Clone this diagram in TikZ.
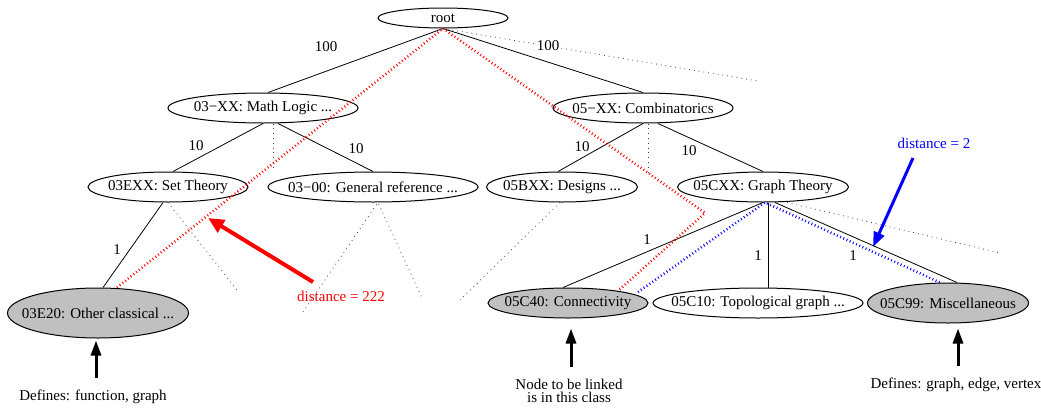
\documentclass[tikz,border=0pt]{standalone}
\usepackage{fontspec}
\setmainfont{Liberation Serif}
\usetikzlibrary{shapes.geometric,arrows.meta}
\definecolor{leafgray}{RGB}{192,192,192}
\begin{document}
\begin{tikzpicture}[x=1pt,y=-1pt,
  every node/.style={font=\fontsize{15}{13}\selectfont, inner sep=0pt},
  cls/.style={draw, ellipse, line width=1pt, minimum height=30pt, label={center:#1}},
  leaf/.style={cls=#1, fill=leafgray},
  tree/.style={line width=0.8pt},
  hidden/.style={line width=0.8pt, black!75, dash pattern=on 0.8pt off 4pt},
  route/.style={line width=2.5pt, dash pattern=on 0.9pt off 2.6pt},
  bigarrow/.style={line width=3pt, -{Triangle[length=15pt,width=10pt]}},
  lab/.style={fill=white, inner sep=1pt}]
\useasboundingbox (0,0) rectangle (1041,410);

% classification nodes (ellipse drawn at a fixed size, text placed as a centred label)
\node[cls=root, minimum width=130pt, minimum height=20pt] (root) at (443,18) {};
\node[cls={03−XX: Math Logic ...}, minimum width=190pt] (ml)   at (263,108) {};
\node[cls={05−XX: Combinatorics}, minimum width=180pt] (comb) at (643,108) {};
\node[cls={03EXX: Set Theory}, minimum width=160pt] (set)  at (168,187) {};
\node[cls={03−00: General reference ...}, minimum width=210pt] (gen)  at (373,187) {};
\node[cls={05BXX: Designs ...}, minimum width=151pt] (des)  at (562,187) {};
\node[cls={05CXX: Graph Theory}, minimum width=171pt] (gt)   at (763,187) {};
\node[leaf={03E20: Other classical ...}, minimum width=181pt, minimum height=50pt] (oc) at (98,313) {};
\node[leaf={05C40: Connectivity}, minimum width=160pt] (con)  at (568,303) {};
\node[cls={05C10: Topological graph ...}, minimum width=210pt] (top)  at (758,303) {};
\node[leaf={05C99: Miscellaneous}, minimum width=161pt, minimum height=40pt] (misc) at (948,303) {};

% free ends of the elided branches
\coordinate (rootmore) at (758,81);
\coordinate (mlmore)   at (273,167);
\coordinate (combmore) at (648,175);
\coordinate (setmore)  at (237,290);
\coordinate (genmoreA) at (303,312);
\coordinate (genmoreB) at (422,298);
\coordinate (desmore)  at (460,300);
\coordinate (gtmore)   at (1000,253);
\coordinate (bend)     at (705,213);

% tree edges
\draw[tree] (root.south) -- ([xshift=5pt]ml.north);
\draw[tree] (root.south) -- (comb.north);
\draw[tree] (ml.south) -- ([xshift=5pt]set.north);
\draw[tree] ([xshift=15pt]ml.south) -- (gen.north);
\draw[tree] (comb.south) -- ([xshift=-4pt]des.north);
\draw[tree] ([xshift=15pt]comb.south) -- (gt.north);
\draw[tree] ([xshift=-5pt]set.south) -- ([xshift=5pt]oc.north);
\draw[tree] (gt.south) -- ([xshift=-5pt]con.north);
\draw[tree] ([xshift=5pt]gt.south) -- ([xshift=10pt]top.north);
\draw[tree] ([xshift=12pt]gt.south) -- ([xshift=9pt]misc.north);

% elided branches
\draw[hidden] (root.south) -- (rootmore);
\draw[hidden] ([xshift=10pt]ml.south) -- (mlmore);
\draw[hidden] ([xshift=5pt]comb.south) -- (combmore);
\draw[hidden] (set.south) -- (setmore);
\draw[hidden] (genmoreA) -- ([xshift=5pt]gen.south) -- (genmoreB);
\draw[hidden] ([xshift=-2pt]des.south) -- (desmore);
\draw[hidden] ([xshift=24pt]gt.south) -- (gtmore);

% edge weights
\node at (326,47) {100};
\node[lab] at (548,46) {100};
\node at (196,146) {10};
\node at (356,149) {10};
\node at (582,147) {10};
\node at (689,151) {10};
\node at (117,250) {1};
\node at (647,240) {1};
\node at (758,256) {1};
\node at (853,256) {1};

% paths between classes
\draw[route, red] ([xshift=19pt]oc.north) -- (root.south) -- (bend) -- ([shift={(50,-12)}]con.center);
\draw[route, blue] ([shift={(70,-11)}]con.center) -- ([xshift=2pt]gt.south) -- ([xshift=-8pt]misc.north);

% distance annotations
\node[text=red] (dred) at (341,296) {distance = 222};
\coordinate (redtail) at (313,282);
\coordinate (redtip)  at (208,218);
\draw[red, line width=4pt, -{Triangle[length=16pt,width=14pt]}] (redtail) -- (redtip);
\node[text=blue] (dblue) at (934,143) {distance = 2};
\coordinate (bluetail) at (913,158);
\coordinate (bluetip)  at (873,247);
\draw[blue, line width=3pt, -{Triangle[length=15pt,width=11pt]}] (bluetail) -- (bluetip);

% captions
\node (def1) at (93,397) {Defines: function, graph};
\node[align=center] (link) at (569,391) {Node to be linked\\is in this class};
\node (def2) at (956,385) {Defines: graph, edge, vertex};
\draw[bigarrow] ([xshift=3pt,yshift=12pt]def1.north) -- ([xshift=-2pt,yshift=-2pt]oc.south);
\draw[bigarrow] ([xshift=2pt,yshift=12pt]link.north) -- ([xshift=3pt,yshift=-10pt]con.south);
\draw[bigarrow] ([xshift=2pt,yshift=12pt]def2.north) -- ([xshift=10pt,yshift=-5pt]misc.south);
\end{tikzpicture}
\end{document}
